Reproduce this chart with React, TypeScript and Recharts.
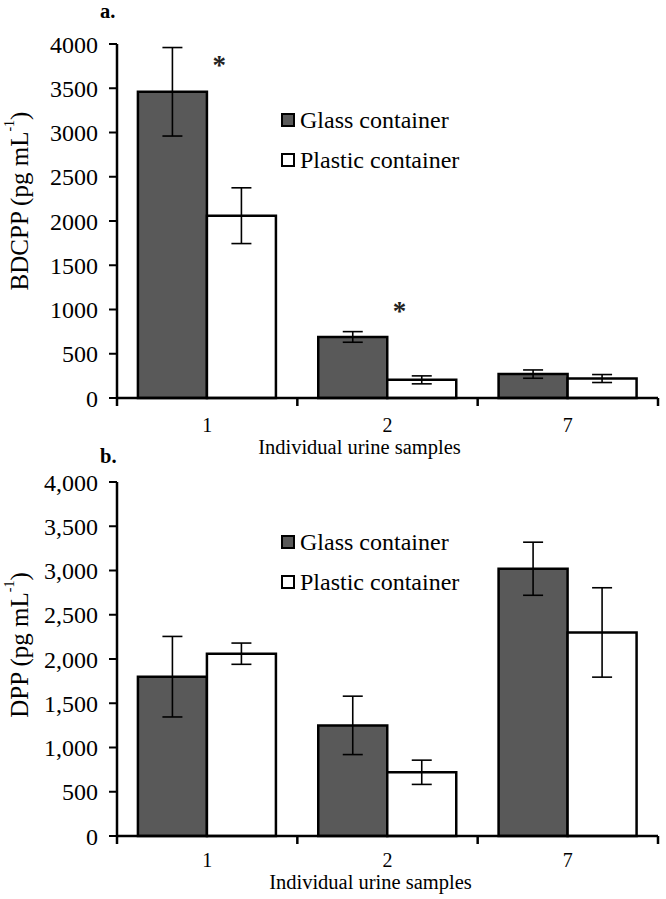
import React from "react";
import {
  Bar,
  ComposedChart,
  ErrorBar,
  Legend,
  ReferenceDot,
  XAxis,
  YAxis
} from "recharts";

// sample ids on the x axis
const samples = ["1", "2", "7"];

// panel a - BDCPP
const bdcppGlass = [3460, 690, 270];
const bdcppGlassErr = [500, 60, 47];
const bdcppPlastic = [2060, 205, 220];
const bdcppPlasticErr = [315, 45, 45];
const bdcppStarSamples = ["1", "2"];
const bdcppStarLevels = [3790, 1010];

// panel b - DPP
const dppGlass = [1800, 1250, 3020];
const dppGlassErr = [455, 330, 300];
const dppPlastic = [2060, 720, 2300];
const dppPlasticErr = [120, 137, 505];

const yTicks = [0, 500, 1000, 1500, 2000, 2500, 3000, 3500, 4000];

const FONT = "'Liberation Serif', 'Times New Roman', serif";

const buildRows = (g: number[], gErr: number[], p: number[], pErr: number[]) =>
  samples.map((s, i) => ({
    sample: s,
    glass: g[i],
    glassErr: gErr[i],
    plastic: p[i],
    plasticErr: pErr[i]
  }));

const rowsA = buildRows(bdcppGlass, bdcppGlassErr, bdcppPlastic, bdcppPlasticErr);
const rowsB = buildRows(dppGlass, dppGlassErr, dppPlastic, dppPlasticErr);

// category label in the band middle, tick marks on the band edges
const SampleTick = (props: any) => {
  const { x, y, payload, labelDy, width, visibleTicksCount, index } = props;
  const half = width / visibleTicksCount / 2;
  return (
    <g>
      <line x1={x - half} x2={x - half} y1={y} y2={y + 8} stroke="#000" strokeWidth={2.5} />
      {index === visibleTicksCount - 1 && (
        <line x1={x + half} x2={x + half} y1={y} y2={y + 8} stroke="#000" strokeWidth={2.5} />
      )}
      <text x={x} y={y + labelDy} textAnchor="middle" fontSize={20} fontFamily={FONT} fill="#000">
        {payload.value}
      </text>
    </g>
  );
};

const YTitle = ({ viewBox, text, shift }: any) => {
  const cx = 19;
  const cy = viewBox.y + viewBox.height / 2 + shift;
  return (
    <text
      transform={`rotate(-90 ${cx} ${cy})`}
      x={cx}
      y={cy}
      textAnchor="middle"
      dominantBaseline="central"
      fontSize={25}
      fontFamily={FONT}
      fill="#000"
    >
      {text} (pg mL
      <tspan fontSize={14} dy={-10}>-1</tspan>
      <tspan dy={10}>)</tspan>
    </text>
  );
};

const XTitle = ({ viewBox, shift, dy }: any) => (
  <text
    x={viewBox.x + viewBox.width / 2 + shift}
    y={viewBox.y + dy}
    textAnchor="middle"
    fontSize={20.5}
    fontFamily={FONT}
    fill="#000"
  >
    Individual urine samples
  </text>
);

const LegendBox = ({ payload }: any) => (
  <div style={{ fontFamily: FONT, fontSize: 24, color: "#000" }}>
    {(payload || []).map((item: any) => (
      <div key={item.value} style={{ display: "flex", alignItems: "center", height: 40, whiteSpace: "nowrap" }}>
        <span
          style={{
            display: "inline-block",
            width: 10,
            height: 10,
            border: "2px solid #000",
            background: item.color,
            marginRight: 5
          }}
        />
        <span style={{ lineHeight: "40px" }}>{item.value}</span>
      </div>
    ))}
  </div>
);

const Star = (props: any) => (
  <text x={props.cx + 12} y={props.cy + 11} textAnchor="middle" fontSize={27} fontWeight="bold" fontFamily={FONT} fill="#222">
    *
  </text>
);

interface PanelProps {
  rows: any[];
  height: number;
  top: number;
  axisHeight: number;
  extraBottom: number;
  yName: string;
  yShift: number;
  xShift: number;
  xDy: number;
  labelDy: number;
  legendTop: number;
  commas: boolean;
  starSamples?: string[];
  starLevels?: number[];
}

const Panel: React.FC<PanelProps> = (p) => (
  <ComposedChart
    width={666}
    height={p.height}
    data={p.rows}
    margin={{ top: p.top, right: 8, bottom: p.extraBottom, left: 0 }}
    barCategoryGap="11.6%"
    barGap={0}
  >
    <XAxis
      dataKey="sample"
      type="category"
      interval={0}
      height={p.axisHeight}
      axisLine={{ stroke: "#000", strokeWidth: 2.5 }}
      tickLine={false}
      tickSize={0}
      tickMargin={0}
      tick={<SampleTick labelDy={p.labelDy} />}
      label={(lp: any) => <XTitle {...lp} shift={p.xShift} dy={p.xDy} />}
    />
    <YAxis
      type="number"
      domain={[0, 4000]}
      ticks={yTicks}
      interval={0}
      width={117}
      axisLine={{ stroke: "#000", strokeWidth: 2.5 }}
      tickLine={{ stroke: "#000", strokeWidth: 2 }}
      tickSize={8}
      tickMargin={11}
      tick={{ fill: "#000", fontSize: 24, fontFamily: FONT }}
      tickFormatter={(v: number) => (p.commas ? v.toLocaleString("en-US") : String(v))}
      label={(lp: any) => <YTitle {...lp} text={p.yName} shift={p.yShift} />}
    />
    <Legend
      layout="vertical"
      align="center"
      verticalAlign="middle"
      content={<LegendBox />}
      wrapperStyle={{ top: p.legendTop, left: 281, width: "auto" }}
    />
    <Bar dataKey="glass" name="Glass container" fill="#595959" stroke="#000" strokeWidth={2.5} isAnimationActive={false}>
      <ErrorBar dataKey="glassErr" width={10} stroke="#000" strokeWidth={1.6} direction="y" isAnimationActive={false} />
    </Bar>
    <Bar dataKey="plastic" name="Plastic container" fill="#ffffff" stroke="#000" strokeWidth={2.5} isAnimationActive={false}>
      <ErrorBar dataKey="plasticErr" width={10} stroke="#000" strokeWidth={1.6} direction="y" isAnimationActive={false} />
    </Bar>
    {(p.starSamples || []).map((s, i) => (
      <ReferenceDot key={s} x={s} y={p.starLevels![i]} r={0} shape={<Star />} />
    ))}
  </ComposedChart>
);

const panelTag: React.CSSProperties = {
  position: "absolute",
  left: 100,
  fontFamily: FONT,
  fontWeight: "bold",
  fontSize: 20.5,
  lineHeight: "23px"
};

export default function App() {
  return (
    <div style={{ position: "absolute", top: 0, left: 0, width: 666, height: 899, background: "#fff" }}>
      <div style={{ position: "absolute", top: 0, left: 0 }}>
        <Panel
          rows={rowsA}
          height={470}
          top={44}
          axisHeight={52}
          extraBottom={20}
          yName="BDCPP"
          yShift={-20}
          xShift={-28}
          xDy={56}
          labelDy={34}
          legendTop={100}
          commas={false}
          starSamples={bdcppStarSamples}
          starLevels={bdcppStarLevels}
        />
      </div>
      <div style={{ position: "absolute", top: 450, left: 0 }}>
        <Panel
          rows={rowsB}
          height={449}
          top={32}
          axisHeight={63}
          extraBottom={0}
          yName="DPP"
          yShift={-14}
          xShift={-17}
          xDy={53}
          labelDy={31}
          legendTop={72}
          commas={true}
        />
      </div>
      <div style={{ ...panelTag, top: 0 }}>a.</div>
      <div style={{ ...panelTag, top: 445 }}>b.</div>
    </div>
  );
}
